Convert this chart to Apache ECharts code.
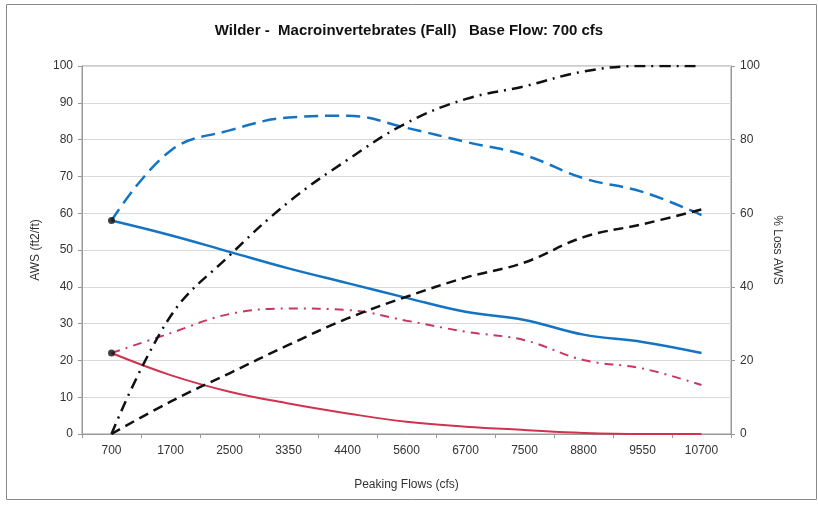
<!DOCTYPE html>
<html><head><meta charset="utf-8">
<script src="https://cdn.jsdelivr.net/npm/echarts@6/dist/echarts.min.js"></script>
<style>html,body{margin:0;padding:0;background:#fff}#c{width:818px;height:505px}</style>
</head><body><div id="c"></div>
<script>
var categories = ['700','1700','2500','3350','4400','5600','6700','7500','8800','9550','10700'];
var awsBlue = [58, 54, 49.5, 45, 41, 37, 33.2, 31, 27, 25, 22];
var awsBlueDash = [58, 77, 82.5, 86, 86.5, 83.2, 79.4, 75.8, 69.5, 65.8, 59.5];
var awsRed = [22, 16, 11.5, 8.3, 5.6, 3.3, 2, 1.1, 0.3, 0, 0];
var awsRedDashDot = [22, 27.4, 32.6, 34.1, 33.7, 30.8, 27.8, 25.5, 20.1, 17.8, 13.3];
var lossBlack = [0, 8.8, 16.5, 24.2, 31.4, 37.3, 42.5, 46.6, 53.5, 57, 61];
var lossBlackDashDot = [0, 32, 48.5, 63, 74.5, 84.5, 91, 94.5, 98.5, 100, 100];
var markerPoints = [58, 22];

var chart = echarts.init(document.getElementById('c'));
var font = 'Liberation Sans, Arial, sans-serif';
function lineSeries(name, data, color, width, type, yIdx) {
  return {
    name: name, type: 'line', data: data, yAxisIndex: yIdx, smooth: 0.4,
    symbol: 'none', lineStyle: {color: color, width: width, type: type}, z: 3
  };
}
chart.setOption({
  animation: false,
  backgroundColor: '#fff',
  title: {
    text: 'Wilder -  Macroinvertebrates (Fall)   Base Flow: 700 cfs',
    left: 'center', top: 18,
    textStyle: {fontFamily: font, fontSize: 15, fontWeight: 'bold', color: '#111'}
  },
  graphic: [{type: 'rect', shape: {x: 6.5, y: 4.5, width: 810, height: 495},
    style: {fill: 'none', stroke: '#8a8a8a', lineWidth: 1}, silent: true}],
  grid: {left: 82, right: 87, top: 66, bottom: 71, show: true, borderColor: '#999', borderWidth: 1, backgroundColor: 'transparent'},
  xAxis: {
    type: 'category', data: categories, boundaryGap: true,
    name: 'Peaking Flows (cfs)', nameLocation: 'middle', nameGap: 45,
    nameTextStyle: {fontFamily: font, fontSize: 12, color: '#333'},
    axisLine: {lineStyle: {color: '#999'}},
    axisTick: {show: true, length: 4, lineStyle: {color: '#999'}},
    axisLabel: {fontFamily: font, fontSize: 12, color: '#333', margin: 11}
  },
  yAxis: [{
    type: 'value', min: 0, max: 100, interval: 10, position: 'left',
    name: 'AWS (ft2/ft)', nameLocation: 'middle', nameGap: 37, nameRotate: 90,
    nameTextStyle: {fontFamily: font, fontSize: 12, color: '#333'},
    axisLine: {show: true, lineStyle: {color: '#999'}},
    axisTick: {show: true, length: 4, lineStyle: {color: '#999'}},
    axisLabel: {fontFamily: font, fontSize: 12, color: '#333', margin: 9},
    splitLine: {show: true, lineStyle: {color: '#d9d9d9'}}
  }, {
    type: 'value', min: 0, max: 100, interval: 20, position: 'right',
    name: '% Loss AWS', nameLocation: 'middle', nameGap: 40, nameRotate: -90,
    nameTextStyle: {fontFamily: font, fontSize: 12, color: '#333'},
    axisLine: {show: true, lineStyle: {color: '#999'}},
    axisTick: {show: true, length: 4, lineStyle: {color: '#999'}},
    axisLabel: {fontFamily: font, fontSize: 12, color: '#333', margin: 9},
    splitLine: {show: false}
  }],
  series: [
    lineSeries('AWS', awsBlue, '#1474c4', 2.5, 'solid', 0),
    lineSeries('AWS peak', awsBlueDash, '#1474c4', 2.5, [14, 7], 0),
    lineSeries('AWS red', awsRed, '#d0324f', 2, 'solid', 0),
    lineSeries('AWS red peak', awsRedDashDot, '#c8375f', 2, [9, 6, 2, 6], 0),
    lineSeries('% Loss', lossBlack, '#111', 2.5, [10, 6], 1),
    lineSeries('% Loss 2', lossBlackDashDot, '#111', 2.5, [11, 6, 2, 6], 1),
    {
      type: 'scatter', yAxisIndex: 0, z: 5,
      data: [[categories[0], markerPoints[0]], [categories[0], markerPoints[1]]],
      symbol: 'circle', symbolSize: 7, itemStyle: {color: '#111'}
    }
  ]
});
</script></body></html>
